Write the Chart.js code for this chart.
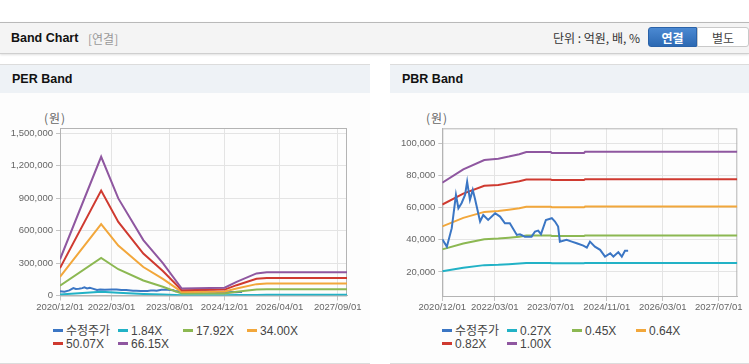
<!DOCTYPE html>
<html>
<head>
<meta charset="utf-8">
<script src="https://cdn.jsdelivr.net/npm/chart.js@4.4.0/dist/chart.umd.min.js"></script>
<style>
body { margin:0; width:749px; height:364px; background:#fff; position:relative; overflow:hidden;
  font-family:"Liberation Sans", Arial, "Noto Sans CJK KR", sans-serif; }
.hdr { position:absolute; left:0; top:22px; width:749px; height:30px; background:#f4f4f4;
  border-top:1px solid #b9b9b9; border-bottom:1px solid #cfcfcf; box-shadow:0 1px 2px rgba(0,0,0,.12); }
.hdr .t { position:absolute; left:11px; top:8px; font-weight:bold; font-size:12.5px; color:#111; }
.hdr .s { position:absolute; left:88px; top:8px; font-size:12px; color:#999; font-family:"Noto Sans CJK KR", sans-serif; line-height:15px; }
.hdr .unit { position:absolute; left:553px; top:7px; font-size:12px; color:#333; font-family:"Noto Sans CJK KR", sans-serif; line-height:16px; }
.btn { position:absolute; top:4px; height:20px; width:49px; font-size:12px; line-height:20px; text-align:center;
  font-family:"Noto Sans CJK KR", sans-serif; box-sizing:border-box; }
.on { left:648px; background:linear-gradient(#4b89d2,#2c69b3); color:#fff; font-weight:bold; border-radius:3px 0 0 3px; border:1px solid #2a62a8; }
.off { left:697px; width:52px; background:#fff; color:#444; border:1px solid #c9c9c9; border-radius:0 3px 3px 0; }
.panel { position:absolute; top:64px; height:298px; border-top:1px solid #dcdcdc; border-bottom:1px solid #dcdcdc; background:#fdfdfd; }
.ptitle { height:28px; background:#eef2f6; font-weight:bold; font-size:12.5px; line-height:28px; padding-left:12px; color:#111; }
.unitw { position:absolute; top:110px; font-size:12px; color:#666; font-family:"Noto Sans CJK KR", sans-serif; line-height:15px; letter-spacing:1px; }
.cv { position:absolute; top:110px; height:210px; }
.lg { position:absolute; font-size:12px; color:#444; line-height:13px; white-space:nowrap; font-family:"Liberation Sans", Arial, "Noto Sans CJK KR", sans-serif; }
.lg i { display:inline-block; width:10px; height:3px; margin-right:3px; vertical-align:middle; position:relative; top:-1px; }
</style>
</head>
<body>
<div class="hdr">
  <span class="t">Band Chart</span><span class="s">[연결]</span>
  <span class="unit">단위 : 억원, 배, %</span>
  <div class="btn on">연결</div><div class="btn off">별도</div>
</div>
<div class="panel" style="left:0;width:370px"><div class="ptitle">PER Band</div></div>
<div class="panel" style="left:390px;width:359px"><div class="ptitle">PBR Band</div></div>
<div class="unitw" style="left:44px">(원)</div>
<div class="unitw" style="left:426px">(원)</div>
<div class="cv" style="left:0;width:370px"><canvas id="perChart"></canvas></div>
<div class="cv" style="left:380px;width:369px"><canvas id="pbrChart"></canvas></div>
<div id="perLegend"></div>
<div id="pbrLegend"></div>
<script>
// x values are months counted from 2020/12/01

// adjusted share price (shared by both charts)
var priceMonths = [0, 1.3, 2.7, 3.9, 4.6, 5.5, 6.5, 7.1, 7.9, 8.7, 9.3, 10.8, 11.7, 13.1, 15.1, 16.5, 17.9, 19.3, 21.3, 22.2,
  23.6, 25.5, 26.5, 27.4, 28.2, 29.6, 31.3, 32.2, 33.1, 33.6, 35.5, 37, 38.4, 40.3, 41.3, 42.2, 43.6, 45.1, 46.5, 48,
  48.9, 50.3, 51.3, 52.2, 53.1];
var priceValues = [40300, 35700, 47200, 67900, 59600, 62700, 67900, 76100, 64800, 71000, 65800, 51300, 55400, 52300, 56500, 54400, 50200, 50200, 43000, 43400,
  41900, 41900, 45100, 45700, 43500, 52300, 53400, 51300, 48200, 38800, 39900, 38800, 37800, 36300, 35100, 38800, 35700, 33700, 29500, 31600,
  29500, 32300, 29500, 33100, 33100];

// PER band
var perMonths = [0, 12, 17, 24.3, 30, 35.5, 48, 51.5, 57.3, 60.3, 83.7];
var per184 = [9300, 35700, 25000, 14200, 8300, 1800, 2000, 3500, 5700, 6000, 6000];
var per1792 = [91000, 348000, 243000, 139000, 81000, 17500, 19500, 34000, 55000, 58000, 58000];
var per3400 = [172000, 660000, 462000, 263000, 154000, 33500, 37000, 65000, 105000, 112000, 112000];
var per5007 = [253000, 971000, 680000, 388000, 227000, 49000, 54500, 95500, 154500, 162000, 162000];
var per6615 = [335000, 1283000, 898000, 512000, 300000, 65000, 72000, 126000, 204000, 214000, 214000];
var perLabels = ["수정주가", "1.84X", "17.92X", "34.00X", "50.07X", "66.15X"];
var perXTicks = [0, 15, 32, 48, 64, 81];
var perXLabels = ["2020/12/01", "2022/03/01", "2023/08/01", "2024/12/01", "2026/04/01", "2027/09/01"];
var perYTicks = [0, 300000, 600000, 900000, 1200000, 1500000];

// PBR band
var pbrMonths = [0, 6, 12, 16, 19, 22, 24, 31, 31.3, 40.5, 40.8, 84.3];
var pbr027 = [20400, 22600, 24200, 24400, 24800, 25200, 25500, 25500, 25400, 25400, 25600, 25600];
var pbr045 = [34000, 37700, 40300, 40700, 41300, 41900, 42600, 42600, 42300, 42300, 42600, 42600];
var pbr064 = [48300, 53600, 57300, 57900, 58700, 59600, 60500, 60500, 60200, 60200, 60600, 60600];
var pbr082 = [61900, 68700, 73500, 74100, 75200, 76400, 77500, 77500, 77100, 77100, 77600, 77600];
var pbr100 = [75500, 83800, 89600, 90400, 91700, 93200, 94600, 94600, 94000, 94000, 94700, 94700];
var pbrLabels = ["수정주가", "0.27X", "0.45X", "0.64X", "0.82X", "1.00X"];
var pbrXTicks = [0, 15, 31, 47, 63, 79];
var pbrXLabels = ["2020/12/01", "2022/03/01", "2023/07/01", "2024/11/01", "2026/03/01", "2027/07/01"];
var pbrYTicks = [20000, 40000, 60000, 80000, 100000];

var colors = ["#3b76c4", "#22b2c6", "#8cb852", "#f2a73b", "#cf3a30", "#8f57a0"];

function pts(xs, ys) {
    return xs.map(function (x, i) { return { x: x, y: ys[i] }; });
}

// draws the top and right edges of the plot box
var framePlugin = {
    id: "frame",
    beforeDatasetsDraw: function (chart) {
        var a = chart.chartArea, c = chart.ctx;
        c.save();
        c.strokeStyle = "#b4b4b4";
        c.lineWidth = 1;
        c.strokeRect(a.left + 0.5, a.top + 0.5, a.right - a.left - 1, a.bottom - a.top);
        c.restore();
    }
};

var tickFont = { family: "'Liberation Sans', Arial", size: 9.5 };

function makeChart(id, o) {
    var sets = o.series.map(function (s, i) {
        return {
            label: o.labels[i],
            data: pts(s.x, s.y),
            borderColor: colors[i],
            backgroundColor: colors[i],
            borderWidth: 2,
            pointRadius: 0,
            tension: 0,
            order: i === 0 ? o.priceOrder : 6 - i
        };
    });
    return new Chart(document.getElementById(id), {
        type: "line",
        data: { datasets: sets },
        options: {
            responsive: true,
            maintainAspectRatio: false,
            animation: false,
            layout: { padding: { top: o.padTop, right: o.padRight, left: 0, bottom: 0 } },
            plugins: { legend: { display: false }, tooltip: { enabled: false } },
            scales: {
                x: {
                    type: "linear",
                    min: 0,
                    max: o.xMax,
                    afterBuildTicks: function (s) { s.ticks = o.xTicks.map(function (v) { return { value: v }; }); },
                    afterFit: function (s) { s.height = o.xHeight; },
                    ticks: {
                        autoSkip: false, maxRotation: 0, color: "#666", font: tickFont, padding: 1,
                        callback: function (v, i) { return o.xLabels[i]; }
                    },
                    grid: { color: "#e4e4e4", tickColor: "#c4c4c4", tickLength: 5 },
                    border: { color: "#b4b4b4" }
                },
                y: {
                    min: o.yMin,
                    max: o.yMax,
                    afterBuildTicks: function (s) { s.ticks = o.yTicks.map(function (v) { return { value: v }; }); },
                    afterFit: function (s) { s.width = o.yWidth; },
                    ticks: {
                        color: "#666", font: tickFont, padding: 3,
                        callback: function (v) { return v.toLocaleString("en-US"); }
                    },
                    grid: { color: "#e4e4e4", tickColor: "#c4c4c4", tickLength: 4 },
                    border: { color: "#b4b4b4" }
                }
            }
        },
        plugins: [framePlugin]
    });
}

makeChart("perChart", {
    labels: perLabels,
    series: [
        { x: priceMonths, y: priceValues },
        { x: perMonths, y: per184 },
        { x: perMonths, y: per1792 },
        { x: perMonths, y: per3400 },
        { x: perMonths, y: per5007 },
        { x: perMonths, y: per6615 }
    ],
    priceOrder: 9,
    xMax: 83.7, xTicks: perXTicks, xLabels: perXLabels,
    yMin: 0, yMax: 1549000, yTicks: perYTicks,
    padTop: 18, padRight: 23, yWidth: 60, xHeight: 24.5
});

makeChart("pbrChart", {
    labels: pbrLabels,
    series: [
        { x: priceMonths, y: priceValues },
        { x: pbrMonths, y: pbr027 },
        { x: pbrMonths, y: pbr045 },
        { x: pbrMonths, y: pbr064 },
        { x: pbrMonths, y: pbr082 },
        { x: pbrMonths, y: pbr100 }
    ],
    priceOrder: 0,
    xMax: 84.3, xTicks: pbrXTicks, xLabels: pbrXLabels,
    yMin: 5000, yMax: 109300, yTicks: pbrYTicks,
    padTop: 18.3, padRight: 11.7, yWidth: 62.3, xHeight: 24
});

function buildLegend(id, left, names) {
    var cols = [53, 118, 183, 247];
    var el = document.getElementById(id);
    names.forEach(function (n, i) {
        var d = document.createElement("div");
        d.className = "lg";
        d.style.left = (left + cols[i % 4]) + "px";
        d.style.top = (i < 4 ? 324.5 : 337.5) + "px";
        d.innerHTML = '<i style="background:' + colors[i] + '"></i>' + n;
        el.appendChild(d);
    });
}
buildLegend("perLegend", 0, perLabels);
buildLegend("pbrLegend", 389, pbrLabels);
</script>
</body>
</html>
